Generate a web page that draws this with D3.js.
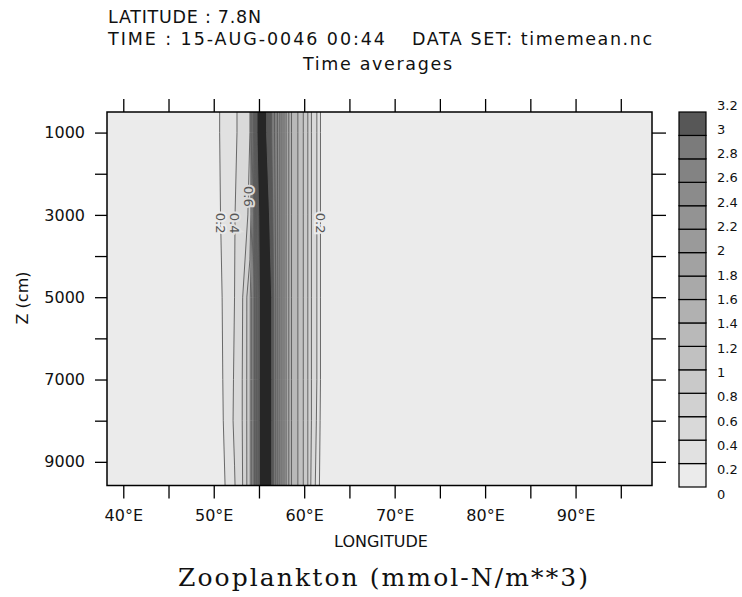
<!DOCTYPE html>
<html lang="en">
<head>
<meta charset="UTF-8">
<title>Zooplankton section</title>
<script src="https://cdn.jsdelivr.net/npm/d3@7"></script>
<style>
    body { margin: 0; background: #fff; }
    svg text { font-family: "DejaVu Sans", sans-serif; fill: #111; }
    .axis path { display: none; }
    .axis line { stroke: #000; stroke-width: 1.3; }
</style>
</head>
<body>
<svg id="chart" width="742" height="597"></svg>
<script>
    /* grid columns: longitude (deg E) */
    const lons = [37, 49.5, 51.0, 52.3, 53.2, 54.0, 54.4, 54.8, 55.1, 55.7, 56.4, 57.2, 58.0, 58.6, 59.3, 59.9, 60.4, 60.8, 61.4, 61.8, 62.6, 100];
    /* grid rows: depth Z (cm) */
    const depths = [300, 1000, 3000, 5000, 7000, 8000, 9800];
    /* zooplankton (mmol-N/m**3), one row per depth, west -> east */
    const zoo = [
        [0, 0, 0.26, 0.37, 0.47, 0.60, 1.6, 3.25, 3.4, 3.25, 3.0, 2.5, 1.8, 1.4, 1.2, 1.0, 0.8, 0.6, 0.4, 0.2, 0.05, 0],
        [0, 0, 0.26, 0.37, 0.47, 0.60, 1.6, 3.25, 3.4, 3.25, 3.0, 2.5, 1.8, 1.4, 1.2, 1.0, 0.8, 0.6, 0.4, 0.2, 0.05, 0],
        [0, 0, 0.24, 0.39, 0.55, 0.62, 1.3, 2.9, 3.4, 3.4, 3.1, 2.5, 1.8, 1.4, 1.2, 1.0, 0.8, 0.6, 0.4, 0.2, 0.05, 0],
        [0, 0, 0.21, 0.40, 0.60, 0.95, 1.5, 2.6, 3.3, 3.5, 3.2, 2.5, 1.8, 1.4, 1.2, 1.0, 0.8, 0.6, 0.4, 0.2, 0.05, 0],
        [0, 0, 0.20, 0.42, 0.61, 0.95, 1.5, 2.6, 3.3, 3.5, 3.2, 2.5, 1.8, 1.4, 1.2, 1.0, 0.8, 0.6, 0.4, 0.2, 0.05, 0],
        [0, 0, 0.19, 0.43, 0.61, 0.95, 1.5, 2.6, 3.3, 3.5, 3.2, 2.5, 1.8, 1.4, 1.2, 1.0, 0.8, 0.6, 0.38, 0.18, 0.04, 0],
        [0, 0, 0.15, 0.38, 0.60, 0.95, 1.5, 2.6, 3.3, 3.5, 3.2, 2.5, 1.8, 1.4, 1.2, 1.0, 0.8, 0.55, 0.33, 0.14, 0.03, 0]
    ];
    /* contour / colour levels */
    const levels = [0.2, 0.4, 0.6, 0.8, 1, 1.2, 1.4, 1.6, 1.8, 2, 2.2, 2.4, 2.6, 2.8, 3, 3.2];
    const barTicks = [0, 0.2, 0.4, 0.6, 0.8, 1, 1.2, 1.4, 1.6, 1.8, 2, 2.2, 2.4, 2.6, 2.8, 3, 3.2];
    /* axes */
    const lonTicks = [40, 45, 50, 55, 60, 65, 70, 75, 80, 85, 90, 95];
    const lonLabels = [40, 50, 60, 70, 80, 90];
    const zTicks = [1000, 2000, 3000, 4000, 5000, 6000, 7000, 8000, 9000];
    const zLabels = [1000, 3000, 5000, 7000, 9000];
    /* labelled contour lines: level, depth of label, flank */
    const lineLabels = [
        { level: 0.2, z: 3200, side: "w" },
        { level: 0.4, z: 3200, side: "w" },
        { level: 0.6, z: 2550, side: "w" },
        { level: 0.2, z: 3200, side: "e" }
    ];

    // band colours: 0-0.2 ... 3.0-3.2, then above 3.2
    const bandColors = ["#ebebeb", "#e1e1e1", "#d9d9d9", "#d1d1d1", "#c9c9c9", "#c1c1c1", "#b9b9b9", "#b1b1b1",
                        "#a9a9a9", "#a2a2a2", "#9a9a9a", "#939393", "#8b8b8b", "#838383", "#7b7b7b", "#575757"];
    const overColor = "#262626";

    const svg = d3.select("#chart");
    const box = { l: 107, r: 652, t: 112, b: 485.5 };

    const x = d3.scaleLinear().domain([38.2, 98.45]).range([box.l, box.r]);
    const y = d3.scaleLinear().domain([500, 9575]).range([box.t, box.b]);

    /* grid index <-> data coordinates (piecewise linear) */
    const nx = lons.length, ny = depths.length;
    const colToLon = d3.scaleLinear().domain(d3.range(nx)).range(lons);
    const rowToZ = d3.scaleLinear().domain(d3.range(ny)).range(depths);
    const lonToCol = d3.scaleLinear().domain(lons).range(d3.range(nx)).clamp(true);
    const zToRow = d3.scaleLinear().domain(depths).range(d3.range(ny)).clamp(true);

    const proj = d3.geoTransform({
        point(px, py) { this.stream.point(x(colToLon(px - 0.5)), y(rowToZ(py - 0.5))); }
    });
    const path = d3.geoPath(proj);

    const contours = d3.contours().size([nx, ny]).thresholds(levels)(zoo.flat());

    svg.append("clipPath").attr("id", "plotClip")
        .append("rect")
        .attr("x", box.l).attr("y", box.t)
        .attr("width", box.r - box.l).attr("height", box.b - box.t);

    const plot = svg.append("g").attr("clip-path", "url(#plotClip)");

    plot.append("rect")
        .attr("x", box.l).attr("y", box.t)
        .attr("width", box.r - box.l).attr("height", box.b - box.t)
        .attr("fill", bandColors[0]);

    /* filled bands */
    plot.append("g").selectAll("path")
        .data(contours)
        .join("path")
        .attr("d", path)
        .attr("fill", (d, i) => i + 1 < bandColors.length ? bandColors[i + 1] : overColor)
        .attr("stroke", "none");

    /* contour lines */
    plot.append("g").selectAll("path")
        .data(contours)
        .join("path")
        .attr("d", path)
        .attr("fill", "none")
        .attr("stroke", "#5a5a5a")
        .attr("stroke-width", 0.9);

    /* bilinear value in the grid, used only to place the line labels */
    function fieldAt(lon, z) {
        const fc = lonToCol(lon), fr = zToRow(z);
        const c0 = Math.min(Math.floor(fc), nx - 2), r0 = Math.min(Math.floor(fr), ny - 2);
        const tc = fc - c0, tr = fr - r0;
        const a = zoo[r0][c0] * (1 - tc) + zoo[r0][c0 + 1] * tc;
        const b = zoo[r0 + 1][c0] * (1 - tc) + zoo[r0 + 1][c0 + 1] * tc;
        return a * (1 - tr) + b * tr;
    }
    function crossing(level, z, side) {
        let lon = side === "w" ? 48 : 64;
        const step = side === "w" ? 0.01 : -0.01;
        while (fieldAt(lon, z) < level && lon > 40 && lon < 70) lon += step;
        return lon;
    }

    plot.append("g").selectAll("text")
        .data(lineLabels)
        .join("text")
        .attr("transform", d => `translate(${x(crossing(d.level, d.z, d.side))},${y(d.z)}) rotate(90)`)
        .attr("text-anchor", "middle")
        .attr("dy", "0.35em")
        .attr("font-size", 13)
        .attr("paint-order", "stroke")
        .attr("stroke", d => bandColors[levels.indexOf(d.level)])
        .attr("stroke-width", 4)
        .style("fill", "#555")
        .text(d => d.level);

    /* frame */
    svg.append("rect")
        .attr("x", box.l).attr("y", box.t)
        .attr("width", box.r - box.l).attr("height", box.b - box.t)
        .attr("fill", "none").attr("stroke", "#000").attr("stroke-width", 1.5);

    function axisStyle(g) {
        g.attr("class", "axis").attr("font-size", 16).attr("font-family", "DejaVu Sans, sans-serif");
    }

    svg.append("g")
        .attr("transform", `translate(0,${box.b})`)
        .call(d3.axisBottom(x).tickValues(lonTicks).tickSize(13).tickPadding(11)
            .tickFormat(d => lonLabels.includes(d) ? d + "°E" : ""))
        .call(axisStyle);

    svg.append("g")
        .attr("transform", `translate(0,${box.t})`)
        .call(d3.axisTop(x).tickValues(lonTicks).tickSize(13).tickFormat(""))
        .call(axisStyle);

    svg.append("g")
        .attr("transform", `translate(${box.l},0)`)
        .call(d3.axisLeft(y).tickValues(zTicks).tickSize(12).tickPadding(10)
            .tickFormat(d => zLabels.includes(d) ? d : ""))
        .call(axisStyle);

    svg.append("g")
        .attr("transform", `translate(${box.r},0)`)
        .call(d3.axisRight(y).tickValues(zTicks).tickSize(14).tickFormat(""))
        .call(axisStyle);

    /* axis titles */
    svg.append("text")
        .attr("x", 381).attr("y", 547)
        .attr("text-anchor", "middle").attr("font-size", 16)
        .text("LONGITUDE");

    svg.append("text")
        .attr("transform", "translate(28,298) rotate(-90)")
        .attr("text-anchor", "middle").attr("font-size", 16)
        .text("Z (cm)");

    /* header */
    svg.append("text").attr("x", 108).attr("y", 23).attr("font-size", 17.5)
        .attr("textLength", 153).attr("lengthAdjust", "spacing")
        .text("LATITUDE : 7.8N");
    svg.append("text").attr("x", 108).attr("y", 45).attr("font-size", 17.5)
        .attr("textLength", 277).attr("lengthAdjust", "spacing")
        .text("TIME : 15-AUG-0046 00:44");
    svg.append("text").attr("x", 412).attr("y", 45).attr("font-size", 17.5)
        .attr("textLength", 240).attr("lengthAdjust", "spacing")
        .text("DATA SET: timemean.nc");
    svg.append("text").attr("x", 303).attr("y", 70).attr("font-size", 17.5)
        .attr("textLength", 149).attr("lengthAdjust", "spacing")
        .text("Time averages");

    svg.append("text").attr("x", 178).attr("y", 586)
        .attr("font-size", 25)
        .attr("textLength", 410).attr("lengthAdjust", "spacing")
        .style("font-family", "'DejaVu Serif', serif")
        .text("Zooplankton (mmol-N/m**3)");

    /* colour bar */
    const bar = { x: 679, w: 27 };
    const cy = d3.scaleLinear().domain([0, 3.2]).range([487, 112]);
    const cyLabel = d3.scaleLinear().domain([0, 3.2]).range([494, 105]);
    const barG = svg.append("g");
    barG.selectAll("rect")
        .data(levels)
        .join("rect")
        .attr("x", bar.x)
        .attr("y", d => cy(d))
        .attr("width", bar.w)
        .attr("height", d => cy(d - 0.2) - cy(d))
        .attr("fill", (d, i) => bandColors[i])
        .attr("stroke", "#000")
        .attr("stroke-width", 1.2);
    barG.selectAll("text")
        .data(barTicks)
        .join("text")
        .attr("x", 717)
        .attr("y", d => cyLabel(d))
        .attr("dy", "0.35em")
        .attr("font-size", 13)
        .text(d => d3.format("~g")(d));
</script>
</body>
</html>
